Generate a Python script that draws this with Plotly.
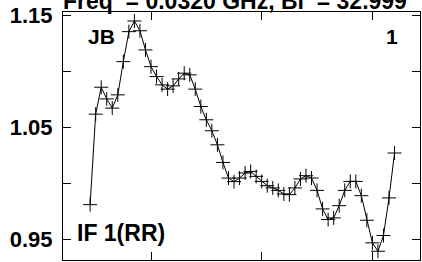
import plotly.graph_objects as go

channels = list(range(9, 65))
amplitude = [
    0.9811, 1.0617, 1.0857, 1.0753, 1.0671, 1.0789, 1.1085, 1.1352, 1.1447, 1.1360,
    1.1189, 1.1040, 1.0952, 1.0878, 1.0840, 1.0869, 1.0931, 1.0982, 1.0967, 1.0840,
    1.0685, 1.0567, 1.0469, 1.0344, 1.0187, 1.0048, 1.0016, 1.0048, 1.0093, 1.0107,
    1.0063, 1.0018, 0.9980, 0.9960, 0.9938, 0.9906, 0.9900, 0.9960, 1.0040, 1.0069,
    1.0048, 0.9938, 0.9773, 0.9678, 0.9693, 0.9802, 0.9938, 1.0018, 1.0018, 0.9891,
    0.9672, 0.9471, 0.9396, 0.9536, 0.9871, 1.0271,
]
y_tick_vals = [0.95, 1.00, 1.05, 1.10, 1.15]
y_tick_text = ["0.95", "", "1.05", "", "1.15"]
x_tick_vals = [20, 40, 60]

title_text = "Freq&nbsp;&nbsp;= 0.0320 GHz, Bl&nbsp;&nbsp;= 32.999"
source_label = "JB"
stokes_label = "IF 1(RR)"
panel_label = "1"

FONT = "Liberation Sans, Arial, sans-serif"

fig = go.Figure()
fig.add_trace(go.Scatter(
    x=channels, y=amplitude, mode="lines+markers",
    line=dict(color="black", width=1),
    marker=dict(symbol="cross-thin", size=10, line=dict(color="black", width=1)),
    showlegend=False, hoverinfo="skip",
))

fig.update_layout(
    width=422, height=262,
    margin=dict(l=63, r=2, t=12, b=2),
    paper_bgcolor="white", plot_bgcolor="white",
    font=dict(family=FONT, size=20, color="black"),
    xaxis=dict(
        range=[4.1, 68.6], showgrid=False, zeroline=False,
        showline=True, linecolor="black", linewidth=1, mirror="ticks",
        ticks="inside", ticklen=8, tickcolor="black", tickwidth=1,
        tickvals=x_tick_vals, showticklabels=False,
    ),
    yaxis=dict(
        range=[0.9318, 1.1527], showgrid=False, zeroline=False,
        showline=True, linecolor="black", linewidth=1, mirror="ticks",
        ticks="inside", ticklen=8, tickcolor="black", tickwidth=1,
        tickvals=y_tick_vals, ticktext=y_tick_text,
        tickfont=dict(family=FONT, size=22, color="black", weight="bold"),
        ticklabelstandoff=5,
    ),
    annotations=[
        dict(text="<b>" + title_text + "</b>", xref="paper", yref="paper",
             x=-0.005, y=1.0, xanchor="left", yanchor="bottom", yshift=-4,
             showarrow=False, font=dict(family=FONT, size=23, color="black")),
        dict(text="<b>" + source_label + "</b>", xref="paper", yref="paper",
             x=0.064, y=0.957, xanchor="left", yanchor="top",
             showarrow=False, font=dict(family=FONT, size=21, color="black")),
        dict(text="<b>" + panel_label + "</b>", xref="paper", yref="paper",
             x=0.945, y=0.957, xanchor="right", yanchor="top",
             showarrow=False, font=dict(family=FONT, size=21, color="black")),
        dict(text="<b>" + stokes_label + "</b>", xref="paper", yref="paper",
             x=0.035, y=0.05, xanchor="left", yanchor="bottom",
             showarrow=False, font=dict(family=FONT, size=23, color="black")),
    ],
)

fig.write_html("out.html", config={"displayModeBar": False, "staticPlot": True})

with open("out.html", "r", encoding="utf-8") as f:
    html = f.read()
html = html.replace("<head>", "<head><style>html,body{margin:0;padding:0;overflow:hidden;}</style>", 1)
with open("out.html", "w", encoding="utf-8") as f:
    f.write(html)
